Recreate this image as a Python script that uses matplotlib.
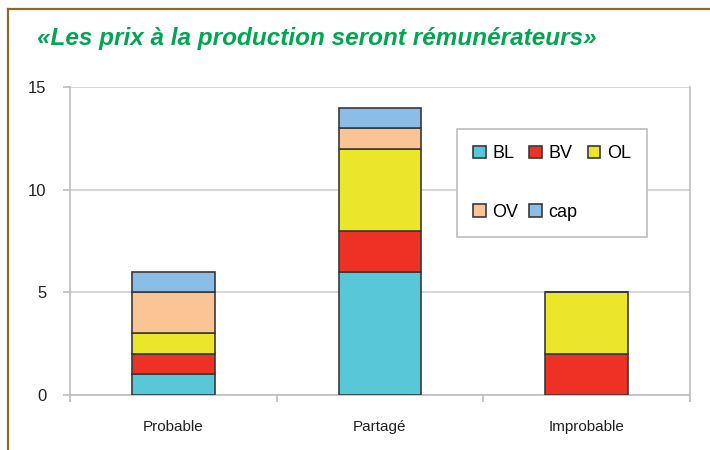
import numpy as np
import matplotlib
matplotlib.use("Agg")
from matplotlib import pyplot as plt
from matplotlib.lines import Line2D

plt.rcParams["font.family"] = ["Liberation Sans", "DejaVu Sans"]

# data
categories = ["Probable", "Partagé", "Improbable"]
series = ["BL", "BV", "OL", "OV", "cap"]
bl = [1, 6, 0]
bv = [1, 2, 2]
ol = [1, 4, 3]
ov = [2, 1, 0]
cap = [1, 1, 0]
colors = ["#58C8D8", "#EE3124", "#EBE62A", "#FAC494", "#8CBDE6"]
title = "«Les prix à la production seront rémunérateurs»"

W, H = 710, 450
fig = plt.figure(figsize=(W / 100, H / 100), dpi=100, facecolor="white")

# outer frame (top and left only)
fig.add_artist(Line2D([7.5 / W, 7.5 / W], [0, 1 - 8.5 / H], color="#8B6A2B", lw=1.6))
fig.add_artist(Line2D([7.5 / W, 1], [1 - 8.5 / H, 1 - 8.5 / H], color="#8B6A2B", lw=1.6))

fig.text(37 / W, 1 - 39 / H, title, color="#00A651", fontsize=17.5, fontweight="bold",
         fontstyle="italic", va="center")

ax = fig.add_axes([70 / W, (H - 395) / H, 620 / W, 308 / H])
x = np.arange(len(categories))
bottom = np.zeros(len(categories))
handles = []
for name, vals, c in zip(series, [bl, bv, ol, ov, cap], colors):
    b = ax.bar(x, vals, 0.4, bottom=bottom, color=c, edgecolor="#3a3a3a", lw=1.2,
               label=name, zorder=3)
    handles.append(b)
    bottom += np.array(vals)

ax.set_xlim(-0.5, 2.5)
ax.set_ylim(0, 15)
ax.set_yticks([0, 5, 10, 15])
ax.grid(axis="y", color="#CFCFCF", lw=1.2, zorder=0)
ax.set_xticks(x)
ax.set_xticklabels(categories)
ax.set_xticks([-0.5, 0.5, 1.5, 2.5], minor=True)
ax.tick_params(axis="x", which="major", length=0, pad=18, labelsize=11, labelcolor="#222222")
ax.tick_params(axis="x", which="minor", length=5, color="#BDBDBD", width=1.2)
ax.tick_params(axis="y", length=5, color="#BDBDBD", width=1.2, pad=12, labelsize=12,
               labelcolor="#222222")
for s in ["left", "bottom", "right"]:
    ax.spines[s].set_color("#BDBDBD")
    ax.spines[s].set_linewidth(1.2)
ax.spines["top"].set_visible(False)

# legend, ordered so rows read BL BV OL / OV cap
order = [0, 3, 1, 4, 2]
leg = ax.legend([handles[i] for i in order], [series[i] for i in order], ncol=3,
                loc="upper left", bbox_to_anchor=(457 / W, 1 - 129 / H),
                bbox_transform=fig.transFigure, fancybox=False, framealpha=1,
                edgecolor="#BDBDBD", fontsize=13, handlelength=0.7, handleheight=0.7,
                handletextpad=0.35, columnspacing=0.6, labelspacing=2.3,
                borderpad=0.9, borderaxespad=0)
leg.get_frame().set_linewidth(1.2)
leg.set_zorder(5)

plt.savefig("out.png", dpi=100)
